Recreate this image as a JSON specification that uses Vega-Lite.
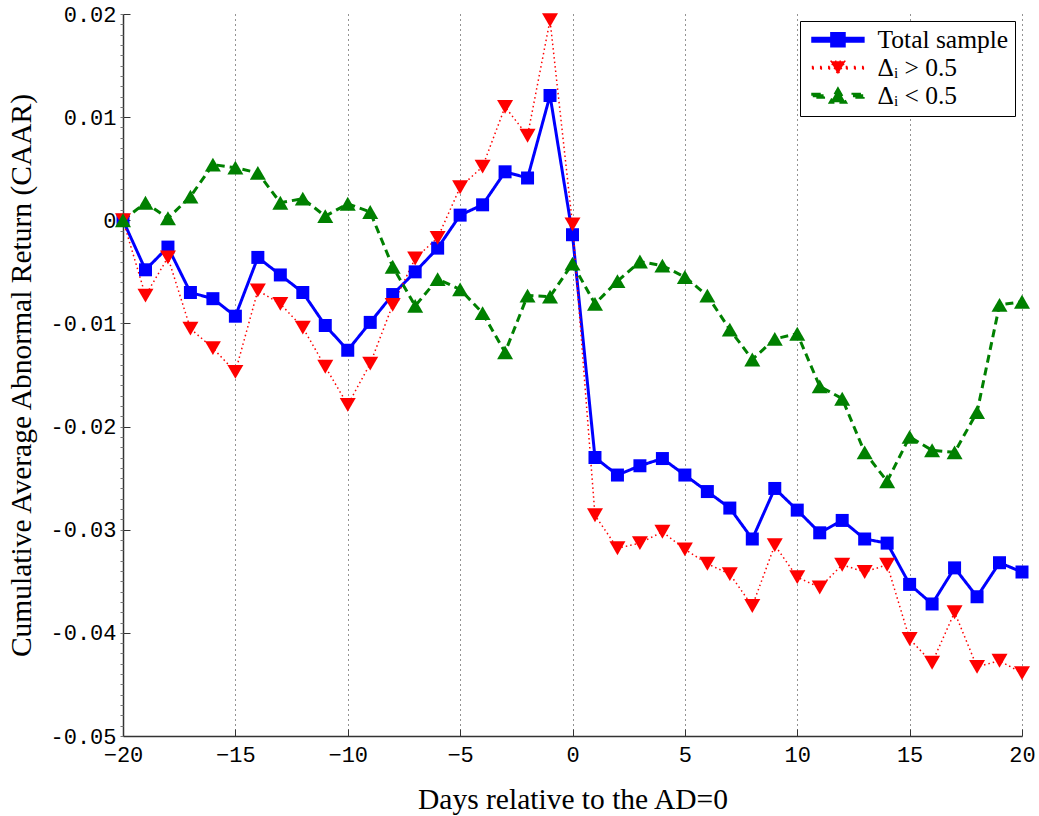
{
  "$schema": "https://vega.github.io/schema/vega-lite/v6.json",
  "width": 899,
  "height": 722,
  "autosize": {"type": "none"},
  "padding": {"left": 123, "top": 14, "right": 17, "bottom": 80},
  "background": "white",
  "config": {
    "view": {"stroke": null},
    "axis": {
      "labelFont": "Liberation Mono",
      "labelFontSize": 22,
      "labelColor": "black",
      "labelFlush": false,
      "titleFont": "Liberation Serif",
      "titleFontSize": 29.5,
      "titleFontWeight": "normal",
      "titleColor": "black",
      "domainColor": "#333333",
      "domainWidth": 1.5,
      "tickColor": "#333333"
    },
    "legend": {
      "title": null,
      "orient": "top-right",
      "offset": 7,
      "fillColor": "white",
      "strokeColor": "black",
      "padding": 6,
      "labelFont": "Liberation Serif",
      "labelFontSize": 25.5,
      "labelColor": "black",
      "labelOffset": 46,
      "symbolSize": 144,
      "symbolOpacity": 1,
      "rowPadding": 1
    }
  },
  "data": {
    "values": [
      {"day": -20, "series": "Total sample", "caar": 0},
      {"day": -19, "series": "Total sample", "caar": -0.0048},
      {"day": -18, "series": "Total sample", "caar": -0.0026},
      {"day": -17, "series": "Total sample", "caar": -0.0070},
      {"day": -16, "series": "Total sample", "caar": -0.0076},
      {"day": -15, "series": "Total sample", "caar": -0.0093},
      {"day": -14, "series": "Total sample", "caar": -0.0036},
      {"day": -13, "series": "Total sample", "caar": -0.0053},
      {"day": -12, "series": "Total sample", "caar": -0.0070},
      {"day": -11, "series": "Total sample", "caar": -0.0102},
      {"day": -10, "series": "Total sample", "caar": -0.0126},
      {"day": -9, "series": "Total sample", "caar": -0.0099},
      {"day": -8, "series": "Total sample", "caar": -0.0072},
      {"day": -7, "series": "Total sample", "caar": -0.0050},
      {"day": -6, "series": "Total sample", "caar": -0.0027},
      {"day": -5, "series": "Total sample", "caar": 0.0005},
      {"day": -4, "series": "Total sample", "caar": 0.0015},
      {"day": -3, "series": "Total sample", "caar": 0.0047},
      {"day": -2, "series": "Total sample", "caar": 0.0041},
      {"day": -1, "series": "Total sample", "caar": 0.0121},
      {"day": 0, "series": "Total sample", "caar": -0.0014},
      {"day": 1, "series": "Total sample", "caar": -0.0230},
      {"day": 2, "series": "Total sample", "caar": -0.0247},
      {"day": 3, "series": "Total sample", "caar": -0.0238},
      {"day": 4, "series": "Total sample", "caar": -0.0231},
      {"day": 5, "series": "Total sample", "caar": -0.0247},
      {"day": 6, "series": "Total sample", "caar": -0.0263},
      {"day": 7, "series": "Total sample", "caar": -0.0279},
      {"day": 8, "series": "Total sample", "caar": -0.0309},
      {"day": 9, "series": "Total sample", "caar": -0.0260},
      {"day": 10, "series": "Total sample", "caar": -0.0281},
      {"day": 11, "series": "Total sample", "caar": -0.0303},
      {"day": 12, "series": "Total sample", "caar": -0.0291},
      {"day": 13, "series": "Total sample", "caar": -0.0309},
      {"day": 14, "series": "Total sample", "caar": -0.0313},
      {"day": 15, "series": "Total sample", "caar": -0.0353},
      {"day": 16, "series": "Total sample", "caar": -0.0372},
      {"day": 17, "series": "Total sample", "caar": -0.0337},
      {"day": 18, "series": "Total sample", "caar": -0.0365},
      {"day": 19, "series": "Total sample", "caar": -0.0332},
      {"day": 20, "series": "Total sample", "caar": -0.0341},
      {"day": -20, "series": "Δᵢ > 0.5", "caar": 0},
      {"day": -19, "series": "Δᵢ > 0.5", "caar": -0.0073},
      {"day": -18, "series": "Δᵢ > 0.5", "caar": -0.0036},
      {"day": -17, "series": "Δᵢ > 0.5", "caar": -0.0105},
      {"day": -16, "series": "Δᵢ > 0.5", "caar": -0.0124},
      {"day": -15, "series": "Δᵢ > 0.5", "caar": -0.0147},
      {"day": -14, "series": "Δᵢ > 0.5", "caar": -0.0068},
      {"day": -13, "series": "Δᵢ > 0.5", "caar": -0.0081},
      {"day": -12, "series": "Δᵢ > 0.5", "caar": -0.0104},
      {"day": -11, "series": "Δᵢ > 0.5", "caar": -0.0142},
      {"day": -10, "series": "Δᵢ > 0.5", "caar": -0.0179},
      {"day": -9, "series": "Δᵢ > 0.5", "caar": -0.0139},
      {"day": -8, "series": "Δᵢ > 0.5", "caar": -0.0082},
      {"day": -7, "series": "Δᵢ > 0.5", "caar": -0.0037},
      {"day": -6, "series": "Δᵢ > 0.5", "caar": -0.0017},
      {"day": -5, "series": "Δᵢ > 0.5", "caar": 0.0032},
      {"day": -4, "series": "Δᵢ > 0.5", "caar": 0.0052},
      {"day": -3, "series": "Δᵢ > 0.5", "caar": 0.0110},
      {"day": -2, "series": "Δᵢ > 0.5", "caar": 0.0082},
      {"day": -1, "series": "Δᵢ > 0.5", "caar": 0.0194},
      {"day": 0, "series": "Δᵢ > 0.5", "caar": -0.0004},
      {"day": 1, "series": "Δᵢ > 0.5", "caar": -0.0286},
      {"day": 2, "series": "Δᵢ > 0.5", "caar": -0.0318},
      {"day": 3, "series": "Δᵢ > 0.5", "caar": -0.0313},
      {"day": 4, "series": "Δᵢ > 0.5", "caar": -0.0302},
      {"day": 5, "series": "Δᵢ > 0.5", "caar": -0.0319},
      {"day": 6, "series": "Δᵢ > 0.5", "caar": -0.0333},
      {"day": 7, "series": "Δᵢ > 0.5", "caar": -0.0343},
      {"day": 8, "series": "Δᵢ > 0.5", "caar": -0.0374},
      {"day": 9, "series": "Δᵢ > 0.5", "caar": -0.0315},
      {"day": 10, "series": "Δᵢ > 0.5", "caar": -0.0346},
      {"day": 11, "series": "Δᵢ > 0.5", "caar": -0.0356},
      {"day": 12, "series": "Δᵢ > 0.5", "caar": -0.0334},
      {"day": 13, "series": "Δᵢ > 0.5", "caar": -0.0341},
      {"day": 14, "series": "Δᵢ > 0.5", "caar": -0.0334},
      {"day": 15, "series": "Δᵢ > 0.5", "caar": -0.0406},
      {"day": 16, "series": "Δᵢ > 0.5", "caar": -0.0429},
      {"day": 17, "series": "Δᵢ > 0.5", "caar": -0.0380},
      {"day": 18, "series": "Δᵢ > 0.5", "caar": -0.0433},
      {"day": 19, "series": "Δᵢ > 0.5", "caar": -0.0427},
      {"day": 20, "series": "Δᵢ > 0.5", "caar": -0.0439},
      {"day": -20, "series": "Δᵢ < 0.5", "caar": 0},
      {"day": -19, "series": "Δᵢ < 0.5", "caar": 0.0017},
      {"day": -18, "series": "Δᵢ < 0.5", "caar": 0.0002},
      {"day": -17, "series": "Δᵢ < 0.5", "caar": 0.0023},
      {"day": -16, "series": "Δᵢ < 0.5", "caar": 0.0054},
      {"day": -15, "series": "Δᵢ < 0.5", "caar": 0.0051},
      {"day": -14, "series": "Δᵢ < 0.5", "caar": 0.0046},
      {"day": -13, "series": "Δᵢ < 0.5", "caar": 0.0017},
      {"day": -12, "series": "Δᵢ < 0.5", "caar": 0.0021},
      {"day": -11, "series": "Δᵢ < 0.5", "caar": 0.0004},
      {"day": -10, "series": "Δᵢ < 0.5", "caar": 0.0016},
      {"day": -9, "series": "Δᵢ < 0.5", "caar": 0.0008},
      {"day": -8, "series": "Δᵢ < 0.5", "caar": -0.0045},
      {"day": -7, "series": "Δᵢ < 0.5", "caar": -0.0083},
      {"day": -6, "series": "Δᵢ < 0.5", "caar": -0.0057},
      {"day": -5, "series": "Δᵢ < 0.5", "caar": -0.0067},
      {"day": -4, "series": "Δᵢ < 0.5", "caar": -0.0090},
      {"day": -3, "series": "Δᵢ < 0.5", "caar": -0.0128},
      {"day": -2, "series": "Δᵢ < 0.5", "caar": -0.0073},
      {"day": -1, "series": "Δᵢ < 0.5", "caar": -0.0074},
      {"day": 0, "series": "Δᵢ < 0.5", "caar": -0.0042},
      {"day": 1, "series": "Δᵢ < 0.5", "caar": -0.0081},
      {"day": 2, "series": "Δᵢ < 0.5", "caar": -0.0059},
      {"day": 3, "series": "Δᵢ < 0.5", "caar": -0.0040},
      {"day": 4, "series": "Δᵢ < 0.5", "caar": -0.0044},
      {"day": 5, "series": "Δᵢ < 0.5", "caar": -0.0055},
      {"day": 6, "series": "Δᵢ < 0.5", "caar": -0.0073},
      {"day": 7, "series": "Δᵢ < 0.5", "caar": -0.0106},
      {"day": 8, "series": "Δᵢ < 0.5", "caar": -0.0135},
      {"day": 9, "series": "Δᵢ < 0.5", "caar": -0.0115},
      {"day": 10, "series": "Δᵢ < 0.5", "caar": -0.0110},
      {"day": 11, "series": "Δᵢ < 0.5", "caar": -0.0161},
      {"day": 12, "series": "Δᵢ < 0.5", "caar": -0.0173},
      {"day": 13, "series": "Δᵢ < 0.5", "caar": -0.0225},
      {"day": 14, "series": "Δᵢ < 0.5", "caar": -0.0253},
      {"day": 15, "series": "Δᵢ < 0.5", "caar": -0.0210},
      {"day": 16, "series": "Δᵢ < 0.5", "caar": -0.0223},
      {"day": 17, "series": "Δᵢ < 0.5", "caar": -0.0225},
      {"day": 18, "series": "Δᵢ < 0.5", "caar": -0.0186},
      {"day": 19, "series": "Δᵢ < 0.5", "caar": -0.0082},
      {"day": 20, "series": "Δᵢ < 0.5", "caar": -0.0079}
    ]
  },
  "encoding": {
    "x": {
      "field": "day",
      "type": "quantitative",
      "scale": {"domain": [-20, 20], "nice": false, "zero": false},
      "axis": {
        "values": [-20, -15, -10, -5, 0, 5, 10, 15, 20],
        "title": "Days relative to the AD=0",
        "grid": true,
        "gridDash": [1, 4],
        "gridColor": "#000000",
        "gridOpacity": 0.85,
        "gridWidth": 1,
        "tickSize": -7,
        "labelPadding": 15,
        "titlePadding": 20
      }
    }
  },
  "resolve": {"axis": {"y": "independent"}},
  "layer": [
    {
      "mark": {"type": "line", "clip": false},
      "encoding": {
        "y": {
          "field": "caar",
          "type": "quantitative",
          "scale": {"domain": [-0.05, 0.02], "nice": false, "zero": false},
          "axis": {
            "orient": "left",
            "values": [-0.05, -0.04, -0.03, -0.02, -0.01, 0, 0.01, 0.02],
            "labelExpr": "'' + round(datum.value * 100) / 100",
            "title": "Cumulative Average Abnormal Return (CAAR)",
            "grid": false,
            "tickSize": -7,
            "labelPadding": 14,
            "titlePadding": 13
          }
        },
        "color": {"field": "series", "type": "nominal", "scale": {"domain": ["Total sample", "Δᵢ > 0.5", "Δᵢ < 0.5"], "range": ["#0000ff", "#ff0000", "#008000"]}, "legend": {"title": null}},
        "strokeDash": {
          "field": "series",
          "type": "nominal",
          "scale": {"domain": ["Total sample", "Δᵢ > 0.5", "Δᵢ < 0.5"], "range": [[1, 0], [1.5, 3], [8, 5]]},
          "legend": null
        },
        "strokeWidth": {
          "field": "series",
          "type": "nominal",
          "scale": {"type": "ordinal", "domain": ["Total sample", "Δᵢ > 0.5", "Δᵢ < 0.5"], "range": [3, 1.5, 3]},
          "legend": null
        }
      }
    },
    {
      "transform": [{"filter": "datum.series == 'Total sample'"}],
      "mark": {"type": "point", "filled": true, "opacity": 1, "clip": false, "shape": "square", "size": 169},
      "encoding": {
        "y": {
          "field": "caar",
          "type": "quantitative",
          "scale": {"domain": [-0.05, 0.02], "nice": false, "zero": false},
          "axis": {
            "orient": "left",
            "values": [-0.05, -0.049, -0.048, -0.047, -0.046, -0.045, -0.044, -0.043, -0.042, -0.041, -0.04, -0.039, -0.038, -0.037, -0.036, -0.035, -0.034, -0.033, -0.032, -0.031, -0.03, -0.029, -0.028, -0.027, -0.026, -0.025, -0.024, -0.023, -0.022, -0.021, -0.02, -0.019, -0.018, -0.017, -0.016, -0.015, -0.014, -0.013, -0.012, -0.011, -0.01, -0.009, -0.008, -0.007, -0.006, -0.005, -0.004, -0.003, -0.002, -0.001, 0, 0.001, 0.002, 0.003, 0.004, 0.005, 0.006, 0.007, 0.008, 0.009, 0.01, 0.011, 0.012, 0.013, 0.014, 0.015, 0.016, 0.017, 0.018, 0.019, 0.02],
            "labels": false,
            "domain": false,
            "title": null,
            "grid": false,
            "tickSize": 3,
            "tickColor": "#777777",
            "tickWidth": 1
          }
        },
        "color": {"field": "series", "type": "nominal", "scale": {"domain": ["Total sample", "Δᵢ > 0.5", "Δᵢ < 0.5"], "range": ["#0000ff", "#ff0000", "#008000"]}}
      }
    },
    {
      "transform": [{"filter": "datum.series == 'Δᵢ > 0.5'"}],
      "mark": {"type": "point", "filled": true, "opacity": 1, "clip": false, "shape": "triangle-down", "size": 256},
      "encoding": {
        "y": {"field": "caar", "type": "quantitative", "scale": {"domain": [-0.05, 0.02], "nice": false, "zero": false}, "axis": null},
        "color": {"field": "series", "type": "nominal", "scale": {"domain": ["Total sample", "Δᵢ > 0.5", "Δᵢ < 0.5"], "range": ["#0000ff", "#ff0000", "#008000"]}}
      }
    },
    {
      "transform": [{"filter": "datum.series == 'Δᵢ < 0.5'"}],
      "mark": {"type": "point", "filled": true, "opacity": 1, "clip": false, "shape": "triangle-up", "size": 256},
      "encoding": {
        "y": {"field": "caar", "type": "quantitative", "scale": {"domain": [-0.05, 0.02], "nice": false, "zero": false}, "axis": null},
        "color": {"field": "series", "type": "nominal", "scale": {"domain": ["Total sample", "Δᵢ > 0.5", "Δᵢ < 0.5"], "range": ["#0000ff", "#ff0000", "#008000"]}}
      }
    },
    {
      "mark": {"type": "point", "filled": true, "opacity": 0},
      "encoding": {
        "y": {"field": "caar", "type": "quantitative", "scale": {"domain": [-0.05, 0.02], "nice": false, "zero": false}, "axis": null},
        "color": {"field": "series", "type": "nominal", "scale": {"domain": ["Total sample", "Δᵢ > 0.5", "Δᵢ < 0.5"], "range": ["#0000ff", "#ff0000", "#008000"]}, "legend": {"title": null}},
        "shape": {
          "field": "series",
          "type": "nominal",
          "scale": {"domain": ["Total sample", "Δᵢ > 0.5", "Δᵢ < 0.5"], "range": [
            "M-1,-0.25H7.4V0.25H-1ZM2.15,-1.05H4.25V1.05H2.15Z",
            "M-1.15,-0.2H-0.8V0.2H-1.15ZM0.2,-0.2H0.55V0.2H0.2ZM1.55,-0.2H1.9V0.2H1.55ZM4.5,-0.2H4.85V0.2H4.5ZM5.85,-0.2H6.2V0.2H5.85ZM7.2,-0.2H7.55V0.2H7.2ZM1.95,-1.08H4.45L3.2,1.08Z",
            "M-1,-0.25H0.8V0.25H-1ZM5.7,-0.25H7.4V0.25H5.7ZM3.2,-1.08L4.45,1.08H1.95Z"
          ]},
          "legend": {"title": null}
        }
      }
    }
  ]
}
